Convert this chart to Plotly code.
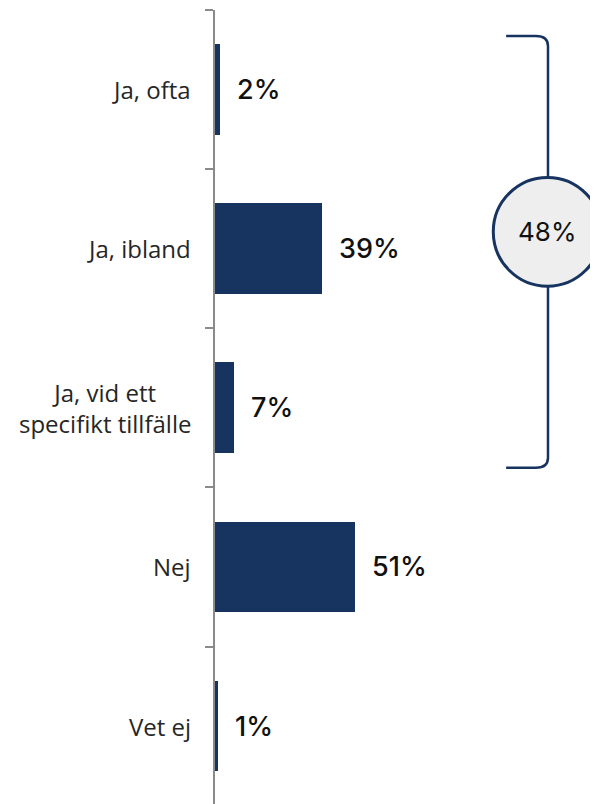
import plotly.graph_objects as go

categories = ["Ja, ofta", "Ja, ibland", "Ja, vid ett<br>specifikt tillfälle", "Nej", "Vet ej"]
values = [2, 39, 7, 51, 1]
bracket_group = [0, 1, 2]  # the "Ja" answers summed in the circle

NAVY = "#17335f"
AXIS_GREY = "#8a8a8a"
LABEL_FONT = "Open Sans"
VALUE_FONT = "Inter"

pos = list(range(len(categories)))

fig = go.Figure()
fig.add_trace(
    go.Bar(
        x=values,
        y=pos,
        orientation="h",
        width=0.57,
        marker=dict(color=NAVY, line=dict(width=0)),
        hoverinfo="skip",
    )
)

# value labels to the right of each bar
for i, v in zip(pos, values):
    fig.add_annotation(
        x=v, y=i, text=f"{v}%", showarrow=False,
        xanchor="left", xshift=15,
        font=dict(family=VALUE_FONT, size=27, color="#111111", weight=500),
    )

# category labels left of the axis, centred lines
for i, c in zip(pos, categories):
    fig.add_annotation(
        x=0, xref="paper", y=i, text=c, showarrow=False,
        xanchor="right", xshift=-22, align="center",
        font=dict(family=LABEL_FONT, size=24, color="#262626", weight=400),
    )

# bracket around the "Ja" answers
bx = 121.7
arm = 106.4
top = min(bracket_group) - 0.337
bot = max(bracket_group) + 0.377
path = (
    f"M {arm},{top} L {bx - 4.4},{top} Q {bx},{top} {bx},{top + 0.063} "
    f"L {bx},{bot - 0.063} Q {bx},{bot} {bx - 4.4},{bot} L {arm},{bot}"
)
fig.add_shape(type="path", path=path, xref="x", yref="y",
              line=dict(color=NAVY, width=2.5))

cy = 0.894
fig.add_shape(type="circle", xref="x", yref="y",
              x0=bx - 20.0, x1=bx + 19.6, y0=cy - 0.342, y1=cy + 0.342,
              fillcolor="#eeeeee", line=dict(color=NAVY, width=3))
total = sum(values[i] for i in bracket_group)
fig.add_annotation(
    x=bx - 0.2, y=cy, text=f"{total}%", showarrow=False,
    font=dict(family=VALUE_FONT, size=26, color="#111111", weight=400),
)

fig.update_xaxes(visible=False, range=[0, 142.9])
fig.update_yaxes(
    range=[4.54, -0.5],
    tickvals=[p - 0.5 for p in pos] + [len(pos) - 0.5],
    showticklabels=False,
    ticks="outside", ticklen=8, tickwidth=2, tickcolor=AXIS_GREY,
    showline=True, linecolor=AXIS_GREY, linewidth=2,
    showgrid=False, zeroline=False,
)
fig.update_layout(
    width=598, height=804,
    margin=dict(l=207, r=0, t=2, b=0),
    plot_bgcolor="white", paper_bgcolor="white",
    showlegend=False,
    bargap=0,
)

fig.write_html("out.html")
